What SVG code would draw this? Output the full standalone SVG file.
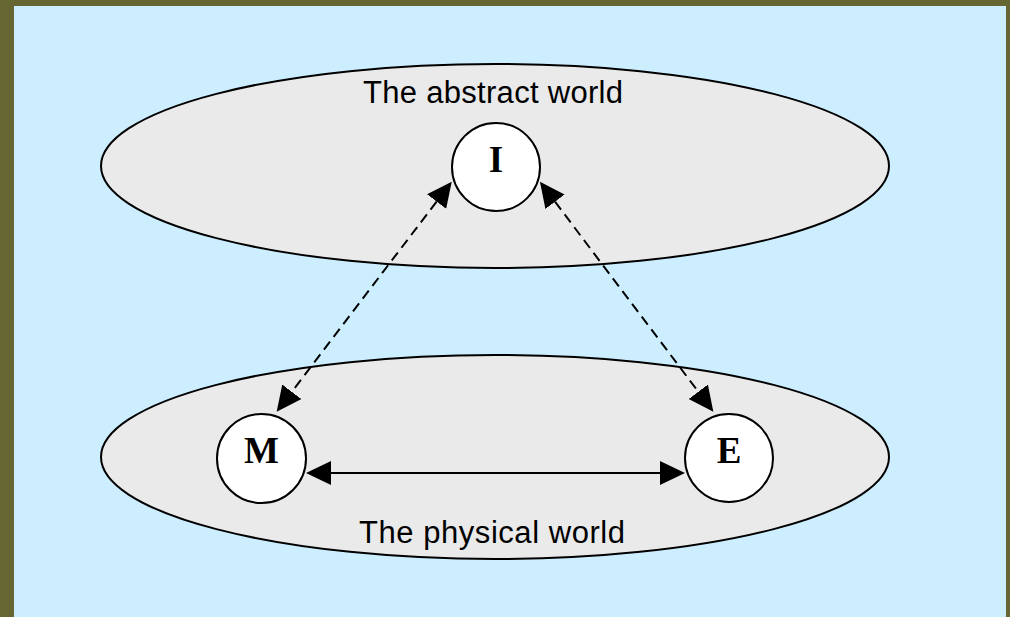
<svg xmlns="http://www.w3.org/2000/svg" width="1010" height="617" viewBox="0 0 1010 617">
<style>
.world{fill:#eaeaea;stroke:#000;stroke-width:2}
.node circle{fill:#fff;stroke:#000;stroke-width:2}
.node text{font-family:"Liberation Serif","Times New Roman",serif;font-weight:bold;font-size:37px;text-anchor:middle;fill:#000}
.label{font-family:"Liberation Sans",Arial,sans-serif;font-size:31px;fill:#000}
.conn{fill:none;stroke:#000;stroke-width:2}
.dash{stroke-dasharray:10 6}
</style>
<defs>
<marker id="ah" markerUnits="userSpaceOnUse" markerWidth="26" markerHeight="26" refX="0" refY="12" orient="auto-start-reverse" viewBox="0 0 26 26">
<path d="M0,0 L25,12 L0,24 z" fill="#000"/>
</marker>
</defs>
<rect x="0" y="0" width="1010" height="617" fill="#666633"/>
<rect x="14" y="6" width="992" height="611" fill="#cceeff"/>
<g id="abstract-world">
<ellipse class="world" cx="495" cy="166" rx="394" ry="102"/>
<text class="label" x="363" y="103" textLength="260">The abstract world</text>
</g>
<g id="physical-world">
<ellipse class="world" cx="495" cy="457" rx="394" ry="102"/>
<text class="label" x="359" y="543" textLength="266">The physical world</text>
</g>
<g id="connectors">
<path class="conn dash" d="M436.6,201.6 L291.8,391.8" marker-start="url(#ah)" marker-end="url(#ah)"/>
<path class="conn dash" d="M555,201.7 L698.3,391.7" marker-start="url(#ah)" marker-end="url(#ah)"/>
<path class="conn" d="M331,473 L660,473" marker-start="url(#ah)" marker-end="url(#ah)"/>
</g>
<g id="node-I" class="node">
<circle cx="496" cy="167" r="44"/>
<text x="496" y="172">I</text>
</g>
<g id="node-M" class="node">
<circle cx="261.5" cy="458.5" r="44.5"/>
<text x="261.5" y="463">M</text>
</g>
<g id="node-E" class="node">
<circle cx="729" cy="458" r="44"/>
<text x="729" y="463">E</text>
</g>
</svg>
